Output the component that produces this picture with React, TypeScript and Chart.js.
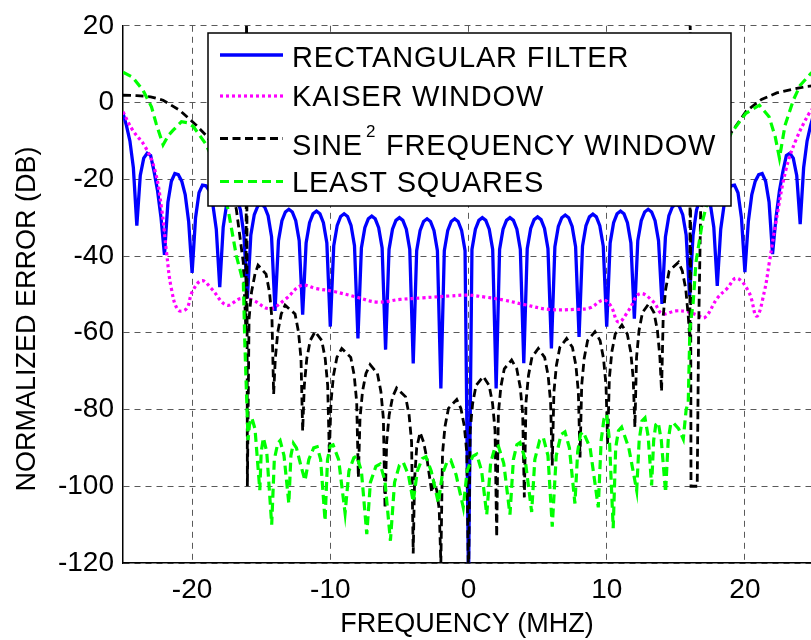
import React, { useEffect, useRef } from "react";
import { Chart, registerables } from "chart.js";

Chart.register(...registerables);

const FONT = '"Liberation Sans", Arial, Helvetica, sans-serif';

// ---- axis ticks & labels ----
const xTickValues = [-20, -10, 0, 10, 20];
const yTickValues = [-120, -100, -80, -60, -40, -20, 0, 20];
const xTitle = "FREQUENCY (MHZ)";
const yTitle = "NORMALIZED ERROR (DB)";

// ---- series names ----
const seriesNames = [
  "RECTANGULAR FILTER",
  "KAISER WINDOW",
  "SINE\u00B2 FREQUENCY WINDOW",
  "LEAST SQUARES",
];

// ---- rectangular filter: dB values on a 0.25 MHz grid from -25 to 25 ----
const rectStep = 0.25;
const rectDb = [
  -2.8, -6, -10, -17, -32.1,
  -19, -14.5, -13.2, -13.8, -18, -23, -30, -39.7,
  -26, -20.5, -18.5, -18.8, -20.5, -24, -31, -44.4,
  -30, -23.5, -21.5, -21.7, -23, -26.5, -33, -48.1,
  -32.5, -26.5, -24.3, -24, -25, -28, -34.5, -51,
  -34.5, -29.2, -27, -26.5, -27.2, -29.5, -35, -54.3,
  -36, -30.8, -28.5, -27.8, -28.5, -30.8, -36, -55.3,
  -36.6, -31.3, -29, -28.3, -29, -31.3, -36.6, -58.4,
  -37.3, -32, -29.7, -29, -29.7, -32, -37.3, -61.5,
  -37.9, -32.6, -30.3, -29.6, -30.3, -32.6, -37.9, -64.4,
  -38.3, -33, -30.7, -30, -30.7, -33, -38.3, -68,
  -38.6, -33.3, -31, -30.3, -31, -33.3, -38.6, -74.5,
  -38.6, -33.3, -31, -30.3, -31, -33.3, -38.6, -125,
  -38.3, -33, -30.7, -30, -30.7, -33, -38.3, -74.5,
  -38.3, -33, -30.7, -30, -30.7, -33, -38.3, -67.9,
  -38.1, -32.8, -30.5, -29.8, -30.5, -32.8, -38.1, -64.1,
  -37.6, -32.3, -30, -29.3, -30, -32.3, -37.6, -61.1,
  -37.4, -32.1, -29.8, -29.1, -29.8, -32.1, -37.4, -58.4,
  -36.6, -31.3, -29, -28.3, -29, -31.3, -36.6, -56.3,
  -36, -30.8, -28.5, -27.8, -28.5, -30.8, -36, -52.5,
  -35, -29.5, -27.2, -26.5, -27, -29.2, -34.5, -50.5,
  -34.5, -28, -25, -24, -24.3, -26.5, -32.5, -47.8,
  -33, -26.5, -23, -21.7, -21.5, -23.5, -30, -44.2,
  -31, -24, -20.5, -18.8, -18.5, -20.5, -26, -39.5,
  -30, -23, -18, -13.8, -13.2, -14.5, -19, -31.7,
  -17, -10, -6, -2.8,
];

// ---- Kaiser window: [MHz, dB] ----
const kaiserPts: [number, number][] = [
  [-25, -2.4], [-24.3, -7.2], [-23.4, -11.5], [-22.7, -17.5], [-22.2, -27.8],
  [-21.85, -39], [-21.5, -48.5], [-21.0, -54.1], [-20.4, -53.7], [-20.0, -49.4],
  [-19.3, -46.4], [-18.6, -48.5], [-17.5, -52.8], [-16.5, -51.1], [-15.6, -51.5],
  [-14.4, -53.7], [-13.2, -51.1], [-12.1, -47.7], [-11.0, -48.5], [-9.8, -49.2],
  [-8.1, -50.7], [-6.6, -52.0], [-4.95, -51.3], [-3.3, -50.9], [-1.3, -50.4],
  [0, -50.2], [1.2, -50.7], [2.6, -51.5], [4.1, -52.7], [5.8, -53.9],
  [7.7, -53.9], [8.8, -53.5], [9.75, -51.5], [10.3, -53], [10.85, -57.2],
  [11.6, -54.1], [12.4, -49.8], [13.4, -52], [14.0, -55], [15.0, -54.3],
  [15.8, -54.5], [16.5, -55.3], [17.1, -56], [18.0, -51], [18.7, -48.5],
  [19.4, -45.8], [20.3, -49.5], [20.85, -55.7], [21.4, -49.4], [21.77, -41.6],
  [22.24, -31.3], [22.97, -17.5], [23.7, -9.7], [24.65, -2.8], [25, -1.2],
];

// ---- sine^2 frequency window: [MHz, dB] ----
const sinePts: [number, number][] = [
  [-25, 1.9], [-24, 1.8], [-23, 1.5], [-22.1, 0.6], [-20.9, -2.0], [-19.7, -5.9],
  [-19.0, -8.5], [-18.2, -12.5], [-17.5, -18], [-16.8, -27.8], [-16.3, -41.6],
  [-16.1, -60], [-16.06, 30], [-16.0, -100],
  [-15.88, -56.4], [-15.7, -49.4], [-15.45, -44.7], [-15.23, -42.4], [-14.65, -44.7], [-14.4, -49.4], [-14.22, -56.4], [-14.1, -76],
  [-13.98, -66.8], [-13.8, -59.8], [-13.55, -55.1], [-13.27, -52.8], [-12.55, -55.1], [-12.3, -59.8], [-12.12, -66.8], [-12.0, -85.6],
  [-11.88, -73.7], [-11.7, -66.7], [-11.45, -62], [-11.1, -59.7], [-10.62, -62], [-10.37, -66.7], [-10.19, -73.7], [-10.07, -91.5],
  [-9.95, -78.1], [-9.77, -71.1], [-9.52, -66.4], [-9.17, -64.1], [-8.52, -66.4], [-8.27, -71.1], [-8.09, -78.1], [-7.97, -97.7],
  [-7.85, -82.3], [-7.67, -75.3], [-7.42, -70.6], [-7.12, -68.3], [-6.59, -70.6], [-6.34, -75.3], [-6.16, -82.3], [-6.04, -105.8],
  [-5.92, -88.4], [-5.74, -81.4], [-5.49, -76.7], [-5.2, -74.4], [-4.55, -76.7], [-4.3, -81.4], [-4.12, -88.4], [-4.0, -117.5],
  [-3.9, -98], [-3.75, -90], [-3.5, -86], [-3.25, -88.5], [-3.0, -93], [-2.8, -98], [-2.66, -101.6],
  [-2.5, -99], [-2.3, -101], [-2.12, -106], [-2.0, -120],
  [-1.88, -91.4], [-1.7, -84.4], [-1.45, -79.7], [-0.85, -77.4], [-0.55, -79.7], [-0.3, -84.4], [-0.12, -91.4], [0, -125],
  [0.12, -85.4], [0.3, -78.4], [0.55, -73.7], [1.07, -71.4], [1.49, -73.7], [1.74, -78.4], [1.92, -85.4], [2.04, -113.2],
  [2.16, -81.1], [2.34, -74.1], [2.59, -69.4], [3.12, -67.1], [3.49, -69.4], [3.74, -74.1], [3.92, -81.1], [4.04, -102.9],
  [4.16, -78.1], [4.34, -71.1], [4.59, -66.4], [5.05, -64.1], [5.51, -66.4], [5.76, -71.1], [5.94, -78.1], [6.06, -94.6],
  [6.18, -75.5], [6.36, -68.5], [6.61, -63.8], [7.1, -61.5], [7.52, -63.8], [7.77, -68.5], [7.95, -75.5], [8.07, -92.5],
  [8.19, -73.7], [8.37, -66.7], [8.62, -62], [9.15, -59.7], [9.52, -62], [9.77, -66.7], [9.95, -73.7], [10.07, -89],
  [10.19, -72], [10.37, -65], [10.62, -60.3], [11.1, -58], [11.49, -60.3], [11.74, -65], [11.92, -72], [12.04, -84.6],
  [12.16, -66.4], [12.34, -59.4], [12.59, -54.7], [13.05, -52.4], [13.42, -54.7], [13.67, -59.4], [13.85, -66.4], [13.97, -75.3],
  [14.09, -55.6], [14.27, -48.6], [14.52, -43.9], [15.2, -41.6], [15.47, -43.9], [15.72, -48.6], [15.9, -55.6], [16.02, -62],
  [16.04, 30], [16.1, -100], [16.55, -100], [16.65, -60], [16.8, -28], [17.5, -17], [18.3, -11],
  [19.1, -7.4], [20.1, -2.2], [21.2, 0.8], [22.3, 2.5], [23.5, 3.5], [24.5, 4.2], [25, 4.4],
];

// ---- least squares: [MHz, dB] ----
const lsPts: [number, number][] = [
  [-25, 7.9], [-24.3, 6.6], [-23.55, 3.2], [-22.94, -1.1], [-22.6, -5.5], [-22.1, -11.0],
  [-21.7, -8.5], [-21.37, -7.2], [-20.77, -5.0], [-20.3, -5.3], [-19.9, -6.3], [-19.05, -10.6],
  [-18.2, -17], [-17.4, -27.8], [-16.8, -39.9], [-16.29, -47], [-16.19, -62], [-16.1, -72],
  [-15.95, -88], [-15.85, -84], [-15.68, -82.2], [-15.45, -85], [-15.1, -101],
  [-15.0, -91], [-14.84, -87.4], [-14.6, -91], [-14.24, -110],
  [-14.05, -93], [-13.8, -88.8], [-13.63, -88.1], [-13.35, -92], [-13.0, -104.5],
  [-12.85, -92], [-12.67, -88.8], [-12.45, -90], [-12.1, -95], [-11.83, -98.5],
  [-11.55, -93], [-11.2, -90], [-10.95, -89.7], [-10.7, -93], [-10.38, -109],
  [-10.2, -93], [-10.0, -89.5], [-9.8, -89.2], [-9.4, -93], [-8.93, -107],
  [-8.65, -96], [-8.3, -92.6], [-8.09, -92.1], [-7.75, -96], [-7.36, -112.5],
  [-7.1, -99], [-6.7, -94.8], [-6.4, -94.2], [-6.05, -98.5], [-5.65, -114.2],
  [-5.35, -99], [-5.0, -94.5], [-4.72, -93.8], [-4.35, -97], [-4.0, -104],
  [-3.7, -96], [-3.35, -92.8], [-3.08, -92.3], [-2.7, -96], [-2.18, -104.3],
  [-1.9, -97], [-1.55, -93.6], [-1.28, -93.2], [-0.9, -97], [-0.38, -105.5],
  [-0.1, -96], [0.3, -92.2], [0.59, -91.6], [0.95, -96], [1.32, -107.4],
  [1.6, -94], [1.9, -90], [2.16, -89.5], [2.55, -94], [3.0, -107.4],
  [3.25, -93], [3.5, -89.2], [3.73, -88.6], [4.1, -93], [4.57, -106.7],
  [4.8, -93], [5.15, -88], [5.41, -87.3], [5.75, -92], [6.06, -110.5],
  [6.35, -92], [6.7, -86.5], [6.98, -85.8], [7.3, -90], [7.7, -104.5],
  [7.9, -91], [8.1, -86.5], [8.3, -85.8], [8.8, -90], [9.39, -105.5],
  [9.6, -88], [9.8, -82.5], [10.0, -81.3], [10.2, -88], [10.47, -110.9],
  [10.65, -90], [10.85, -85.5], [11.08, -84.6], [11.6, -90], [12.17, -101.1],
  [12.35, -88], [12.55, -83], [12.77, -82.2], [13.0, -87], [13.25, -99.8],
  [13.4, -88], [13.55, -84], [13.73, -83.4], [13.95, -88], [14.26, -101.6],
  [14.45, -88], [14.62, -84], [14.81, -83.4], [15.2, -85], [15.54, -87.7],
  [15.75, -80], [15.9, -78.2], [16.02, -59], [16.26, -52], [16.46, -41.6], [16.94, -30.8],
  [18.0, -16], [19.0, -8.0], [20.07, -2.8], [21.05, -0.7], [21.75, -3.7], [22.2, -9],
  [22.5, -14.5], [22.9, -6], [23.5, 0.6], [24.0, 4.5], [24.8, 7.7], [25, 8],
];

const toXY = (pts: [number, number][]) => pts.map(([x, y]) => ({ x, y }));

const legendPlugin = {
  id: "matlabDecor",
  afterDraw(chart: any) {
    const ctx: any = chart.ctx;
    ctx.save();
    ctx.fillStyle = "#000";

    // axis titles
    ctx.font = `27px ${FONT}`;
    ctx.textAlign = "center";
    ctx.textBaseline = "alphabetic";
    ctx.fillText(xTitle, 467, 632);
    ctx.save();
    ctx.translate(35, 319);
    ctx.rotate(-Math.PI / 2);
    ctx.fillText(yTitle, 0, 0);
    ctx.restore();

    // legend box
    const bx = 208, by = 33, bw = 523, bh = 173;
    ctx.fillStyle = "#fff";
    ctx.fillRect(bx, by, bw, bh);
    ctx.strokeStyle = "#000";
    ctx.lineWidth = 1.5;
    ctx.setLineDash([]);
    ctx.strokeRect(bx, by, bw, bh);

    const lineYs = [55, 96, 138.5, 181.5];
    const textYs = [66.5, 106, 155, 192];
    const tx = 292;
    chart.data.datasets.forEach((ds: any, i: number) => {
      ctx.save();
      ctx.strokeStyle = ds.borderColor;
      ctx.lineWidth = ds.borderWidth;
      ctx.setLineDash(ds.borderDash || []);
      ctx.beginPath();
      ctx.moveTo(220, lineYs[i]);
      ctx.lineTo(283, lineYs[i]);
      ctx.stroke();
      ctx.restore();

      ctx.save();
      ctx.fillStyle = "#000";
      ctx.textAlign = "left";
      ctx.textBaseline = "alphabetic";
      ctx.font = `29px ${FONT}`;
      if ("letterSpacing" in ctx) ctx.letterSpacing = "0.8px";
      if (i === 2) {
        const head = "SINE";
        ctx.fillText(head, tx, textYs[i]);
        const w = ctx.measureText(head).width;
        ctx.font = `17px ${FONT}`;
        ctx.fillText("2", tx + w + 3, textYs[i] - 18.5);
        const w2 = ctx.measureText("2").width;
        ctx.font = `29px ${FONT}`;
        ctx.fillText(" FREQUENCY WINDOW", tx + w + 3 + w2 + 1, textYs[i]);
      } else {
        ctx.fillText(ds.label, tx, textYs[i]);
      }
      ctx.restore();
    });
    ctx.restore();
  },
};

export default function App() {
  const ref = useRef<HTMLCanvasElement | null>(null);

  useEffect(() => {
    if (!ref.current) return;
    const rectData = rectDb.map((y, i) => ({ x: -25 + i * rectStep, y }));
    const gridColor = "rgb(90,90,90)";
    const tickFont = { family: FONT, size: 28 };

    const chart = new Chart(ref.current, {
      type: "line",
      data: {
        datasets: [
          {
            label: seriesNames[0],
            data: rectData,
            borderColor: "#0000ff",
            borderWidth: 3.3,
            pointRadius: 0,
            tension: 0,
            order: 4,
            clip: 0,
          },
          {
            label: seriesNames[1],
            data: toXY(kaiserPts),
            borderColor: "#ff00ff",
            borderWidth: 3.2,
            borderDash: [3, 3],
            pointRadius: 0,
            tension: 0.4,
            order: 3,
            clip: 0,
          },
          {
            label: seriesNames[2],
            data: toXY(sinePts),
            borderColor: "#000000",
            borderWidth: 2.8,
            borderDash: [8, 4.5],
            pointRadius: 0,
            tension: 0,
            order: 2,
            clip: 0,
          },
          {
            label: seriesNames[3],
            data: toXY(lsPts),
            borderColor: "#00ff00",
            borderWidth: 3.2,
            borderDash: [9, 5],
            pointRadius: 0,
            tension: 0,
            order: 1,
            clip: 0,
          },
        ] as any,
      },
      options: {
        animation: false,
        responsive: false,
        devicePixelRatio: 1,
        layout: { padding: { left: 0, top: 22, right: 16, bottom: 0 } },
        plugins: {
          legend: { display: false },
          tooltip: { enabled: false },
        },
        scales: {
          x: {
            type: "linear",
            min: -25,
            max: 25,
            afterBuildTicks: (s: any) => {
              s.ticks = xTickValues.map((v) => ({ value: v }));
            },
            afterFit: (s: any) => {
              s.height = 77;
            },
            grid: { color: gridColor, lineWidth: 1, drawTicks: false },
            border: { display: true, color: "#000", width: 1.5, dash: [6, 5] },
            ticks: {
              color: "#000",
              font: tickFont,
              padding: 10,
              maxRotation: 0,
              autoSkip: false,
              callback: (v: any) => String(v),
            },
          },
          y: {
            type: "linear",
            min: -120,
            max: 20,
            afterBuildTicks: (s: any) => {
              s.ticks = yTickValues.map((v) => ({ value: v }));
            },
            afterFit: (s: any) => {
              s.width = 123;
            },
            grid: { color: gridColor, lineWidth: 1, drawTicks: false },
            border: { display: true, color: "#000", width: 1.5, dash: [6, 5] },
            ticks: {
              color: "#000",
              font: tickFont,
              padding: 9,
              autoSkip: false,
              callback: (v: any) => String(v),
            },
          },
        },
      } as any,
      plugins: [legendPlugin],
    });
    return () => chart.destroy();
  }, []);

  return (
    <div
      style={{
        position: "absolute",
        left: 0,
        top: 0,
        width: 811,
        height: 640,
        overflow: "hidden",
        background: "#fff",
      }}
    >
      <canvas ref={ref} width={830} height={640} style={{ display: "block" }} />
    </div>
  );
}
